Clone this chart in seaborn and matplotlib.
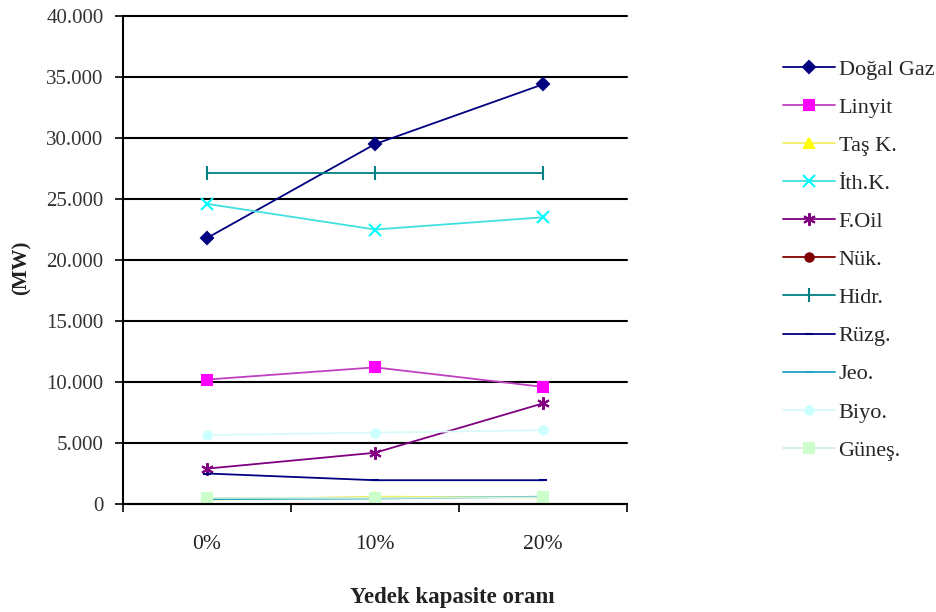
import matplotlib
matplotlib.use("Agg")
import matplotlib.pyplot as plt
from matplotlib.ticker import FuncFormatter, FixedLocator
import seaborn as sns
import pandas as pd

# Reserve capacity scenarios
categories = ["0%", "10%", "20%"]

# Installed capacity per source (MW)
sources = ["Doğal Gaz", "Linyit", "Taş K.", "İth.K.", "F.Oil", "Nük.",
           "Hidr.", "Rüzg.", "Jeo.", "Biyo.", "Güneş."]
dogal_gaz = [21800, 29500, 34400]
linyit = [10200, 11200, 9600]
tas_k = [350, 600, 550]
ith_k = [24600, 22500, 23500]
f_oil = [2900, 4200, 8250]
nuk = [0, 0, 0]
hidr = [27100, 27100, 27100]
ruzg = [2500, 1950, 1950]
jeo = [400, 450, 600]
biyo = [5650, 5850, 6050]
gunes = [500, 500, 550]

values = [dogal_gaz, linyit, tas_k, ith_k, f_oil, nuk, hidr, ruzg, jeo, biyo, gunes]

colors = ["#000080", "#FF00FF", "#FFFF00", "#00FFFF", "#800080", "#800000",
          "#008080", "#000080", "#1FA3C8", "#CCFFFF", "#CCFFCC"]
line_colors = ["#000080", "#C040C0", "#F0F060", "#40E0E0", "#800080", "#800000",
               "#008080", "#000080", "#1FA3C8", "#D8FAFA", "#D0F0D8"]
markers = ["D", "s", "^", "x", (6, 2, 0), "o", "|", "_", "_", "o", "s"]
msizes = [6, 7, 7, 8, 9, 6, 10, 6, 6, 6, 7]

rows = []
for name, vals in zip(sources, values):
    for i, v in enumerate(vals):
        rows.append({"pos": i, "MW": v, "src": name})
df = pd.DataFrame(rows)

sns.set_theme(style="white")
plt.rcParams["font.family"] = ["Liberation Serif", "DejaVu Serif"]

fig = plt.figure(figsize=(9.36, 6.12), dpi=100)
ax = fig.add_axes([123 / 936, 1 - 504 / 612, 504 / 936, 488 / 612])

for name, lc, mc, mk, ms in zip(sources, line_colors, colors, markers, msizes):
    sub = df[df["src"] == name]
    sns.lineplot(data=sub, x="pos", y="MW", ax=ax, color=lc, lw=1.3,
                 marker=mk, markersize=ms, markerfacecolor=mc,
                 markeredgecolor=mc, markeredgewidth=1.5, label=name,
                 legend=False)

ax.set_xlim(-0.5, 2.5)
ax.set_ylim(0, 40000)
ax.set_yticks(range(0, 40001, 5000))
ax.yaxis.set_major_formatter(FuncFormatter(lambda v, p: f"{int(v):,}".replace(",", ".")))
ax.set_xticks([0, 1, 2])
ax.set_xticklabels(categories)
ax.xaxis.set_minor_locator(FixedLocator([-0.5, 0.5, 1.5, 2.5]))
ax.tick_params(axis="x", which="major", length=0, pad=22, labelsize=15.5, colors="#222222")
ax.tick_params(axis="x", which="minor", length=6, width=1.2, color="black", direction="out", bottom=True)
ax.tick_params(axis="y", length=6, width=1.2, color="black", direction="out", left=True,
               labelsize=15, labelcolor="#333333", pad=8)

ax.grid(axis="y", color="black", lw=1.5)
for gl in ax.get_ygridlines():
    gl.set_clip_on(False)
ax.set_axisbelow(True)
for s in ["top", "right"]:
    ax.spines[s].set_visible(False)
for s in ["left", "bottom"]:
    ax.spines[s].set_color("black")
    ax.spines[s].set_linewidth(1.5)

ax.set_xlabel("")
ax.set_ylabel("")
fig.text(452 / 936, 1 - 598 / 612, "Yedek kapasite oranı", fontsize=16.5,
         fontweight="bold", ha="center", va="center", color="#222222")
fig.text(22 / 936, 1 - 268 / 612, "(MW)", fontsize=15, fontweight="bold",
         rotation=90, ha="center", va="center", color="#222222")

handles, labels = ax.get_legend_handles_labels()
fig.legend(handles, labels, loc="upper left", bbox_to_anchor=(783 / 936, 1 - 59 / 612),
           frameon=False, fontsize=16, handlelength=2.35, handletextpad=0.15,
           labelspacing=0.79, borderaxespad=0, borderpad=0)

fig.savefig("out.png", dpi=100)
